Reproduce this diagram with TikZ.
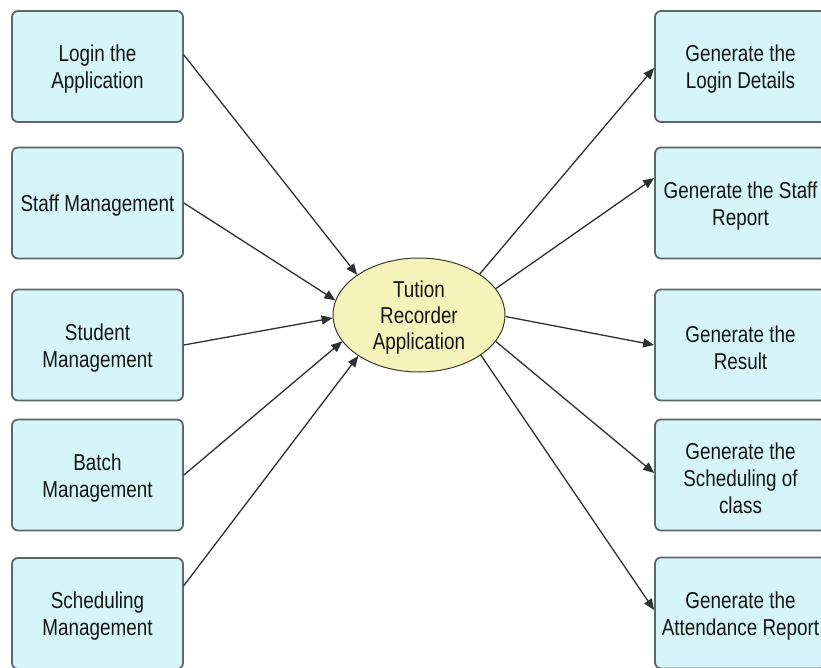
\documentclass[tikz,border=0pt]{standalone}
\usepackage{fontspec}
\setmainfont{Liberation Sans}[FakeStretch=0.82]
\usetikzlibrary{shapes.geometric,arrows.meta,calc}
\definecolor{boxfill}{HTML}{D5F5F9}
\definecolor{boxline}{HTML}{5E6668}
\definecolor{ellfill}{HTML}{F5F2BA}
\definecolor{ellline}{HTML}{3A3A30}
\definecolor{arrline}{HTML}{303030}
\begin{document}
\begin{tikzpicture}[x=1pt,y=-1pt,
  box/.style={draw=boxline,line width=1.8pt,fill=boxfill,rounded corners=6pt,
    minimum width=171pt,minimum height=111pt,inner sep=0pt},
  boxtext/.style={align=center,inner sep=0pt,yshift=-3pt,
    font=\fontsize{23}{27}\selectfont,text=black!92},
  ellnode/.style={ellipse,draw=ellline,line width=1pt,fill=ellfill,
    minimum width=172pt,minimum height=114pt,inner sep=0pt},
  elltext/.style={align=center,inner sep=0pt,yshift=-3pt,
    font=\fontsize{23}{26}\selectfont,text=black!92},
  arr/.style={draw=arrline,line width=1.3pt,-{Triangle[length=11pt,width=9pt]}}
]
\useasboundingbox (0,0) rectangle (821,668);
\fill[white] (0,0) rectangle (821,668);

\node[box,label={[boxtext]center:{Login the\\Application}}] (l1) at (97.5,66.5) {};
\node[box,label={[boxtext]center:{Staff Management}}] (l2) at (97.5,203) {};
\node[box,label={[boxtext]center:{Student\\Management}}] (l3) at (97.5,345) {};
\node[box,label={[boxtext]center:{Batch\\Management}}] (l4) at (97.5,475) {};
\node[box,label={[boxtext]center:{Scheduling\\Management}}] (l5) at (97.5,613.5) {};

\node[box,label={[boxtext]center:{Generate the\\Login Details}}] (r1) at (740.5,66.5) {};
\node[box,label={[boxtext]center:{Generate the Staff\\Report}}] (r2) at (740.5,203) {};
\node[box,label={[boxtext]center:{Generate the\\Result}}] (r3) at (740.5,345) {};
\node[box,label={[boxtext]center:{Generate the\\Scheduling of\\class}}] (r4) at (740.5,475) {};
\node[box,label={[boxtext]center:{Generate the\\Attendance Report}}] (r5) at (740.5,613) {};

\node[ellnode,label={[elltext]center:{Tution\\Recorder\\Application}}] (ell) at (419,315) {};

\draw[arr] ([yshift=11.5pt]l1.east) -- (ell.147);
\draw[arr] (l2.east) -- (ell.170);
\draw[arr] (l3.east) -- (ell.182);
\draw[arr] (l4.east) -- (ell.199.5);
\draw[arr] ([yshift=28pt]l5.east) -- (ell.214);

\draw[arr] (ell.34.5) -- ([yshift=-1.5pt]r1.west);
\draw[arr] (ell.19.6) -- ([yshift=25pt]r2.west);
\draw[arr] (ell.359) -- (r3.west);
\draw[arr] (ell.341) -- ([yshift=2pt]r4.west);
\draw[arr] (ell.327) -- ([yshift=3pt]r5.west);
\end{tikzpicture}
\end{document}
